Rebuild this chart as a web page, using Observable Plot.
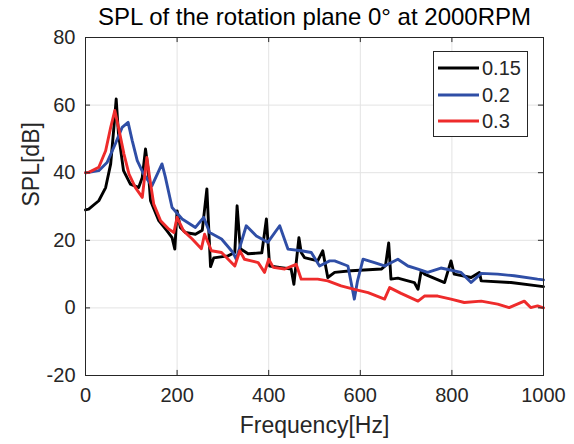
<!DOCTYPE html>
<html>
<head>
<meta charset="utf-8">
<script src="https://cdn.jsdelivr.net/npm/d3@7"></script>
<script src="https://cdn.jsdelivr.net/npm/@observablehq/plot@0.6"></script>
<style>
  html, body { margin: 0; padding: 0; background: #fff; }
  #chart svg { display: block; }
</style>
</head>
<body>
<div id="chart"></div>
<script>
// ---- data ----
const seriesNames = ["0.15", "0.2", "0.3"];
const seriesColors = ["#000000", "#2f4ea6", "#ee2b2b"];

const freq015 = [0,7,29,44,55,62,67,72,83,98,116,124,131,137,142,160,178,189,195,200,207,218,240,255,265,273,280,311,326,331,338,355,385,395,402,427,449,455,466,471,478,507,518,529,544,580,646,655,662,667,682,718,726,733,740,784,798,805,842,860,864,929,987,1000];
const spl015  = [29,29.2,31.7,35.6,42.6,53.4,61.8,51.5,40.6,36.6,35.6,38.6,47,40.6,31.7,25.8,22.8,20.8,17.4,28.7,23.8,22.3,21.8,23,35.2,12.2,14.8,15.4,16.4,30.2,17.5,16,16.3,26.3,12.4,11.9,11.5,7,20.8,16.4,14.9,13.9,16.9,9,10.5,11,11.5,12.5,19.2,8.5,8.8,7.5,5.5,11,10,7.5,13.9,10,9,10.5,8,7.5,6.5,6.3];

const freq02 = [0,7,29,47,65,80,93,102,113,127,145,167,174,189,211,240,258,271,297,322,329,351,373,398,424,442,471,493,511,533,544,573,587,594,606,631,653,682,704,726,747,776,820,842,864,900,936,987,1000];
const spl02  = [40,40.1,40.6,43,48.5,53.4,54.9,49.5,43.6,39.6,36.1,42.6,38.9,29.7,26.3,23.8,26.8,22.3,20.4,16.4,14.4,24.3,21.3,19.4,24.3,17.4,16.9,16.4,12.4,13.9,13.9,12.4,2.6,8,14.4,13.4,12.4,14.4,12.4,11.5,10.5,11.8,10.5,7.5,10.2,10,9.5,8.5,8.3];

const freq03 = [0,7,29,44,55,64,72,84,95,109,124,134,140,149,164,182,193,200,214,233,253,260,275,297,326,337,347,362,377,391,400,410,435,460,471,507,529,558,587,617,653,664,689,726,740,769,798,827,864,900,925,958,972,987,1000];
const spl03  = [40,40.1,41.6,46.5,53.4,58.4,53.4,45.5,39.6,35.6,32.7,44.5,38.6,30.7,25.8,23.3,22.3,26.8,22.8,20.4,17.5,21.8,16.9,16.4,12.4,16.9,14.4,13.9,13.4,10.5,14.4,12,11.5,12.9,8.5,8.5,8,6.5,5.5,4.5,2.6,6,4.3,2,3.5,3.5,2.6,1.6,2,1.1,0.1,2,0.1,0.6,0];

const xTicks = [0,200,400,600,800,1000];
const yTicks = [-20,0,20,40,60,80];

const titleText = "SPL of the rotation plane 0° at 2000RPM";
const xLabel = "Frequency[Hz]";
const yLabel = "SPL[dB]";

// ---- build ----
const toRows = (fs, vs) => fs.map((f, i) => ({f, v: vs[i]}));
const rows = [toRows(freq015, spl015), toRows(freq02, spl02), toRows(freq03, spl03)];

const FONT = "'Liberation Sans', Arial, Helvetica, sans-serif";
const TXT = "#262626";

const plot = Plot.plot({
  width: 574,
  height: 444,
  marginLeft: 85,
  marginRight: 31,
  marginTop: 37,
  marginBottom: 69,
  style: {fontFamily: FONT, color: TXT, background: "#fff", overflow: "visible"},
  x: {domain: [0, 1000]},
  y: {domain: [-20, 80]},
  marks: [
    Plot.gridX(xTicks, {stroke: "#e3e3e3", strokeOpacity: 1, strokeWidth: 1}),
    Plot.gridY(yTicks, {stroke: "#e3e3e3", strokeOpacity: 1, strokeWidth: 1}),
    ...rows.map((r, i) => Plot.line(r, {x: "f", y: "v", stroke: seriesColors[i], strokeWidth: 2.9, strokeLinejoin: "round", strokeLinecap: "round"})),
    Plot.frame({stroke: "#262626", strokeWidth: 1}),
    // inner ticks on all four sides
    Plot.ruleX(xTicks, {x: d => d, y1: -20, y2: -18.5, stroke: "#262626"}),
    Plot.ruleX(xTicks, {x: d => d, y1: 78.5, y2: 80, stroke: "#262626"}),
    Plot.ruleY(yTicks, {y: d => d, x1: 0, x2: 11, stroke: "#262626"}),
    Plot.ruleY(yTicks, {y: d => d, x1: 989, x2: 1000, stroke: "#262626"}),
    Plot.axisX({ticks: xTicks, tickSize: 0, tickPadding: 12, fontSize: 20, label: null, tickFormat: d => String(d)}),
    Plot.axisY({ticks: yTicks, tickSize: 0, tickPadding: 10, fontSize: 20, label: null, tickFormat: d => String(d)}),
    Plot.text([xLabel], {frameAnchor: "bottom", dy: 50, fontSize: 23, fill: TXT, lineAnchor: "middle"}),
    Plot.text([yLabel], {frameAnchor: "left", dx: -54, rotate: -90, fontSize: 23, fill: TXT, lineAnchor: "middle"}),
    Plot.text([titleText], {frameAnchor: "top", dy: -20, fontSize: 24, fill: "#000", lineAnchor: "middle"})
  ]
});

document.getElementById("chart").appendChild(plot);

// ---- legend (inside plot, top-right) ----
const svg = d3.select(plot);
const lg = svg.append("g").attr("font-family", FONT).attr("text-anchor", "start");
lg.append("rect").attr("x", 433.5).attr("y", 51.5).attr("width", 94).attr("height", 85)
  .attr("fill", "#fff").attr("stroke", "#262626").attr("stroke-width", 1);
const rowY = [68, 95, 121];
seriesNames.forEach((name, i) => {
  lg.append("line").attr("x1", 438).attr("x2", 479).attr("y1", rowY[i]).attr("y2", rowY[i])
    .attr("stroke", seriesColors[i]).attr("stroke-width", 2.9);
  lg.append("text").attr("x", 482).attr("y", rowY[i]).attr("dy", "0.36em")
    .attr("text-anchor", "start").attr("font-size", 20).attr("fill", TXT).text(name);
});
</script>
</body>
</html>
